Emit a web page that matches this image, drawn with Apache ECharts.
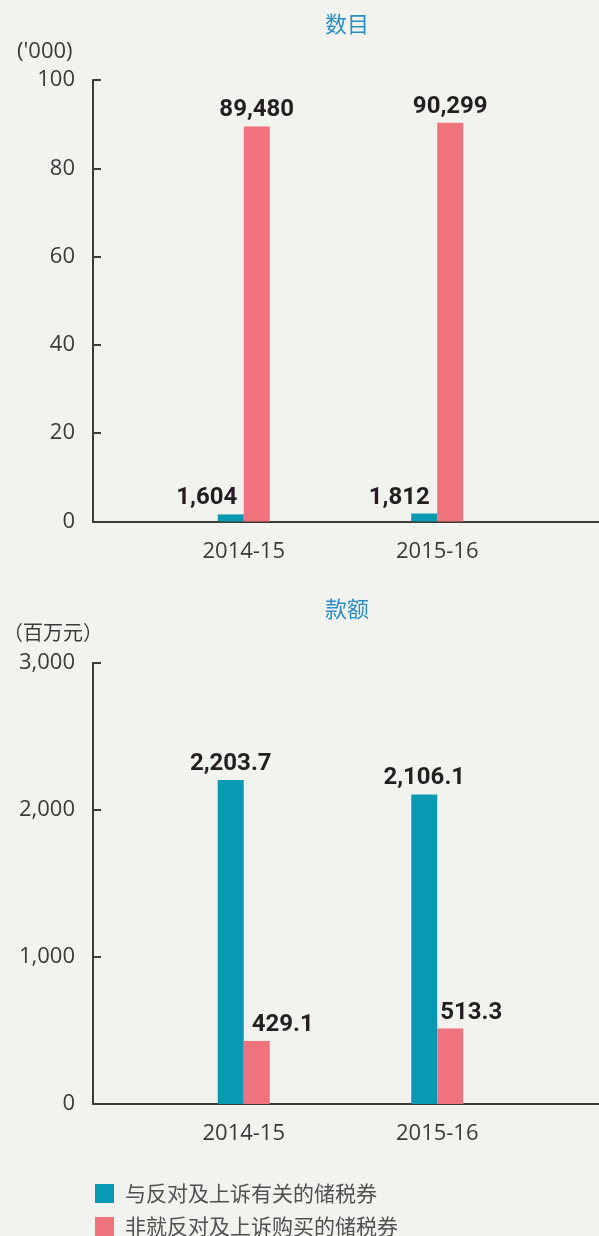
<!DOCTYPE html>
<html>
<head>
<meta charset="utf-8">
<script src="https://cdn.jsdelivr.net/npm/echarts@6/dist/echarts.min.js"></script>
<style>
  html, body { margin: 0; padding: 0; background: #f2f3ee; }
  #chart { width: 599px; height: 1236px; }
</style>
</head>
<body>
<div id="chart"></div>
<script>
// 数据
const categories = ['2014-15', '2015-16']
const seriesNames = ['与反对及上诉有关的储税券', '非就反对及上诉购买的储税券']
const countRelated = [1604, 1812]       // 数目
const countOther = [89480, 90299]
const amountRelated = [2203.7, 2106.1]  // 款额 (百万元)
const amountOther = [429.1, 513.3]

// label nudges (px), kept apart from the data
const countShift = [[-24, -25], [0, 0]]
const amountShift = [[0, 0], [26, 21]]

const colors = ['#0a99b2', '#ee737c']
const axisColor = '#3d3a38'
const textColor = '#3a3a3a'
const numFont = '"Open Sans", sans-serif'
const boldFont = 'Roboto, "Open Sans", sans-serif'
const cjkFont = '"Noto Sans CJK SC", sans-serif'

let fmtCount = v => Number(v).toLocaleString('en-US')
let fmtAmount = v => Number(v).toLocaleString('en-US', { minimumFractionDigits: 1, maximumFractionDigits: 1 })

function bars (name, data, axis, color, fmt, shift) {
  return {
    name: name,
    type: 'bar',
    xAxisIndex: axis,
    yAxisIndex: axis,
    barWidth: 26,
    barGap: '0%',
    itemStyle: { color: color },
    data: data.map((v, i) => ({ value: v, label: { offset: [shift[i], 0] } })),
    label: {
      show: true,
      position: 'top',
      distance: 4,
      formatter: p => fmt(p.value),
      fontFamily: boldFont,
      fontWeight: 'bold',
      fontSize: 24,
      color: '#231f20'
    }
  }
}

function catAxis (grid) {
  return {
    type: 'category',
    gridIndex: grid,
    data: categories,
    axisLine: { show: false },
    axisTick: { show: false },
    axisLabel: { fontFamily: numFont, fontSize: 22, color: textColor, margin: 19 }
  }
}

function lineAxis (grid) {
  return {
    type: 'value',
    gridIndex: grid,
    min: 0,
    max: 1,
    axisLine: { show: true, lineStyle: { color: axisColor, width: 2 } },
    axisTick: { show: false },
    axisLabel: { show: false },
    splitLine: { show: false }
  }
}

function valAxis (grid, max, interval, fmt) {
  return {
    type: 'value',
    gridIndex: grid,
    min: 0,
    max: max,
    interval: interval,
    offset: 54,
    axisLine: { show: true, lineStyle: { color: axisColor, width: 2 } },
    axisTick: { show: true, inside: true, length: 8, lineStyle: { color: axisColor, width: 2 } },
    axisLabel: { fontFamily: numFont, fontSize: 22, color: textColor, margin: 18, formatter: fmt },
    splitLine: { show: false }
  }
}

function legendRow (name, top) {
  return {
    data: [name],
    left: 95,
    top: top,
    padding: 0,
    icon: 'rect',
    itemWidth: 19,
    itemHeight: 19,
    selectedMode: false,
    textStyle: { fontFamily: cjkFont, fontSize: 21, color: '#505050', padding: [0, 0, 0, 6] }
  }
}

let myChart = echarts.init(document.getElementById('chart'))
let option = {
  backgroundColor: '#f2f3ee',
  animation: false,
  title: [
    { text: '数目', left: 347, top: 13, textAlign: 'center', padding: 0,
      textStyle: { fontFamily: cjkFont, fontWeight: 'normal', fontSize: 22, color: '#2a8ec6' } },
    { text: "('000)", left: 17, top: 41, padding: 0,
      textStyle: { fontFamily: numFont, fontWeight: 'normal', fontSize: 22, color: textColor } },
    { text: '款额', left: 347, top: 598, textAlign: 'center', padding: 0,
      textStyle: { fontFamily: cjkFont, fontWeight: 'normal', fontSize: 22, color: '#2a8ec6' } },
    { text: '（百万元）', left: 3, top: 622, padding: 0,
      textStyle: { fontFamily: cjkFont, fontWeight: 'normal', fontSize: 20, color: textColor } }
  ],
  legend: [legendRow(seriesNames[0], 1183), legendRow(seriesNames[1], 1216)],
  grid: [
    { left: 147, right: 65, top: 80, height: 441.5 },
    { left: 93, right: 0, top: 80, height: 441.5 },
    { left: 147, right: 65, top: 663, height: 441 },
    { left: 93, right: 0, top: 663, height: 441 }
  ],
  xAxis: [catAxis(0), lineAxis(1), catAxis(2), lineAxis(3)],
  yAxis: [
    valAxis(0, 100000, 20000, v => v / 1000),
    { type: 'value', gridIndex: 1, min: 0, max: 1, show: false },
    valAxis(2, 3000, 1000, v => fmtCount(v)),
    { type: 'value', gridIndex: 3, min: 0, max: 1, show: false }
  ],
  series: [
    bars(seriesNames[0], countRelated, 0, colors[0], fmtCount, countShift[0]),
    bars(seriesNames[1], countOther, 0, colors[1], fmtCount, countShift[1]),
    bars(seriesNames[0], amountRelated, 2, colors[0], fmtAmount, amountShift[0]),
    bars(seriesNames[1], amountOther, 2, colors[1], fmtAmount, amountShift[1])
  ]
}
myChart.setOption(option)
</script>
</body>
</html>
